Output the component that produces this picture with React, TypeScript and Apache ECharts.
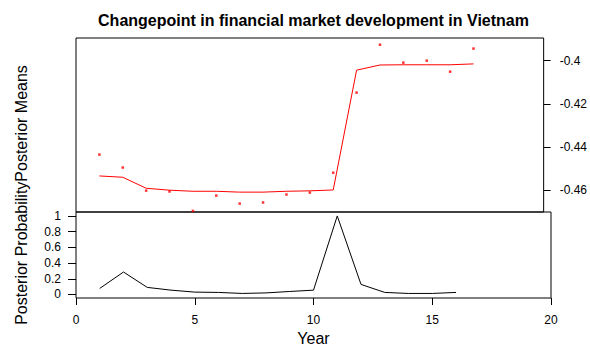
import React, { useEffect, useRef } from "react";
import * as echarts from "echarts";

const years = [1, 2, 3, 4, 5, 6, 7, 8, 9, 10, 11, 12, 13, 14, 15, 16, 17];
const observed = [
  -0.4435, -0.4495, -0.4602, -0.4606, -0.4696, -0.4625, -0.4662, -0.4657, -0.462,
  -0.4611, -0.4519, -0.4148, -0.3926, -0.4009, -0.4, -0.4051, -0.3944,
];
const posteriorMeans = [
  -0.4534, -0.454, -0.4591, -0.46, -0.4605, -0.4605, -0.4609, -0.4609, -0.4605,
  -0.4603, -0.4599, -0.4044, -0.402, -0.4019, -0.4019, -0.4019, -0.4015,
];
const probYears = [1, 2, 3, 4, 5, 6, 7, 8, 9, 10, 11, 12, 13, 14, 15, 16];
const posteriorProb = [
  0.077, 0.286, 0.09, 0.055, 0.03, 0.026, 0.013, 0.02, 0.038, 0.055, 1.0, 0.128,
  0.026, 0.013, 0.013, 0.026,
];
const meanTicks = [-0.46, -0.44, -0.42, -0.4];
const probTicks = [0, 0.2, 0.4, 0.6, 0.8, 1];

const FONT = "'Liberation Sans', Arial, sans-serif";

export default function App() {
  const ref = useRef<HTMLDivElement>(null);
  useEffect(() => {
    if (!ref.current) return;
    const chart = echarts.init(ref.current, null, { renderer: "svg" });
    const fmt = (v: number) => String(Number(Number(v).toFixed(2)));
    chart.setOption({
      animation: false,
      backgroundColor: "#fff",
      textStyle: { fontFamily: FONT },
      grid: [
        { left: 76, top: 38, width: 475, height: 174, show: true, borderColor: "#000", borderWidth: 1, backgroundColor: "transparent" },
        { left: 76, top: 212, width: 475, height: 86, show: true, borderColor: "#000", borderWidth: 1, backgroundColor: "transparent" },
      ],
      xAxis: [
        { type: "value", gridIndex: 0, min: 0, max: 20, show: false, axisLine: { onZero: false } },
        {
          type: "value",
          gridIndex: 1,
          min: 0,
          max: 20,
          interval: 5,
          axisLine: { show: false, onZero: false },
          axisTick: { show: true, length: 7, lineStyle: { color: "#000", width: 1 } },
          axisLabel: { color: "#000", fontSize: 12, fontFamily: FONT, margin: 16 },
          splitLine: { show: false },
        },
      ],
      yAxis: [
        {
          type: "value",
          gridIndex: 0,
          position: "right",
          min: -0.4701,
          max: -0.3895,
          axisLine: { show: false, onZero: false },
          axisTick: { show: true, length: 7, customValues: meanTicks, lineStyle: { color: "#000", width: 1 } },
          axisLabel: { color: "#000", fontSize: 12, fontFamily: FONT, margin: 16, customValues: meanTicks, formatter: fmt },
          splitLine: { show: false },
        },
        {
          type: "value",
          gridIndex: 1,
          position: "left",
          min: -0.045,
          max: 1.05,
          axisLine: { show: false, onZero: false },
          axisTick: { show: true, length: 8, customValues: probTicks, lineStyle: { color: "#000", width: 1 } },
          axisLabel: { color: "#000", fontSize: 12, fontFamily: FONT, margin: 15, customValues: probTicks, formatter: fmt },
          splitLine: { show: false },
        },
      ],
      series: [
        {
          type: "scatter",
          xAxisIndex: 0,
          yAxisIndex: 0,
          symbol: "rect",
          symbolSize: 2.5,
          itemStyle: { color: "#ff0000" },
          data: years.map((y, i) => [y, observed[i]]),
        },
        {
          type: "line",
          xAxisIndex: 0,
          yAxisIndex: 0,
          showSymbol: false,
          lineStyle: { color: "#ff0000", width: 1 },
          itemStyle: { color: "#ff0000" },
          data: years.map((y, i) => [y, posteriorMeans[i]]),
        },
        {
          type: "line",
          xAxisIndex: 1,
          yAxisIndex: 1,
          showSymbol: false,
          lineStyle: { color: "#000", width: 1 },
          itemStyle: { color: "#000" },
          data: probYears.map((y, i) => [y, posteriorProb[i]]),
        },
      ],
      graphic: [
        {
          type: "text",
          x: 313.5,
          y: 20,
          style: {
            text: "Changepoint in financial market development in Vietnam",
            font: `bold 16px ${FONT}`,
            fill: "#000",
            textAlign: "center",
            textVerticalAlign: "middle",
          },
        },
        {
          type: "text",
          x: 313.5,
          y: 338,
          style: {
            text: "Year",
            font: `16px ${FONT}`,
            fill: "#000",
            textAlign: "center",
            textVerticalAlign: "middle",
          },
        },
        {
          type: "text",
          x: 21,
          y: 195,
          rotation: Math.PI / 2,
          style: {
            text: "Posterior ProbabilityPosterior Means",
            font: `16px ${FONT}`,
            fill: "#000",
            textAlign: "center",
            textVerticalAlign: "middle",
          },
        },
      ],
    });
    return () => chart.dispose();
  }, []);
  return (
    <div
      ref={ref}
      style={{ position: "fixed", left: 0, top: 0, width: 590, height: 356 }}
    />
  );
}
